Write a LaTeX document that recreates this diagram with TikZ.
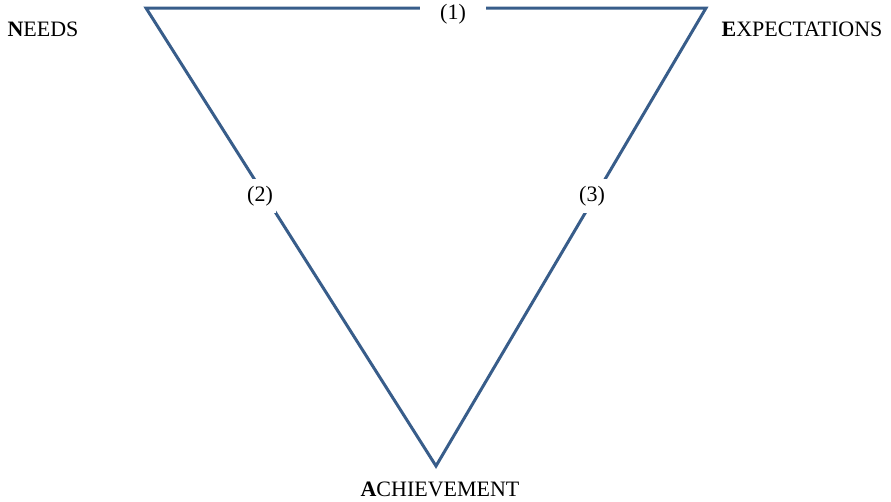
\documentclass[tikz,border=0pt]{standalone}
\usepackage{fontspec}
\setmainfont{Liberation Serif}
\definecolor{edgeblue}{RGB}{56,93,138}
\begin{document}
\begin{tikzpicture}[x=1pt,y=-1pt,
  edge/.style={draw=edgeblue,line width=3pt,line join=miter},
  vlabel/.style={font=\fontsize{22}{26}\selectfont,inner sep=0pt,anchor=base},
  numlabel/.style={font=\fontsize{22}{26}\selectfont,fill=white,inner xsep=20pt,inner ysep=6pt}]
\useasboundingbox (0,0) rectangle (891,501);
\coordinate (n) at (146,8);
\coordinate (e) at (706,8);
\coordinate (a) at (436,466);
\draw[edge] (n) -- (e) -- (a) -- cycle;
\node[numlabel] (l1) at (453,14) {(1)};
\node[numlabel,inner xsep=3pt,inner ysep=7pt] (l2) at (260,196) {(2)};
\node[numlabel,inner xsep=3pt,inner ysep=7pt] (l3) at (592,196) {(3)};
\node[vlabel] (needs) at (43,36) {\textbf{N}EEDS};
\node[vlabel] (exp) at (802,36) {\textbf{E}XPECTATIONS};
\node[vlabel] (ach) at (440,496) {\textbf{A}CHIEVEMENT};
\end{tikzpicture}
\end{document}
